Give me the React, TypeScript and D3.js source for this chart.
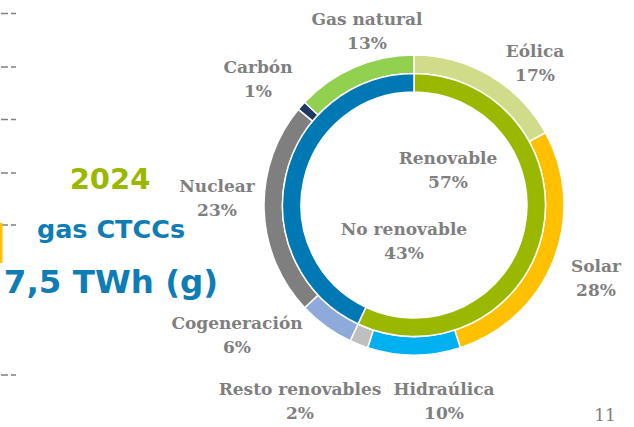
import { useMemo } from 'react';
import * as d3 from 'd3';

// outer ring: technologies, clockwise from 12 o'clock
const techNames = ['Eólica', 'Solar', 'Hidraúlica', 'Resto renovables', 'Cogeneración', 'Nuclear', 'Carbón', 'Gas natural'];
const techValues = [17, 28, 10, 2, 6, 23, 1, 13];
const techColors = ['#d0dc8a', '#ffc000', '#00b0f0', '#bfbfbf', '#8eaadb', '#7f7f7f', '#1f3864', '#92d050'];

// inner ring: renewable split
const groupNames = ['Renovable', 'No renovable'];
const groupValues = [57, 43];
const groupColors = ['#9bb800', '#0078b4'];

// label anchor points (center x, baseline of first line)
const techLabelPos: [number, number][] = [
    [535, 57], [596, 272], [444, 395], [300, 395], [237, 329], [217, 192], [258, 73], [367, 25],
];
const groupLabelPos: [number, number][] = [[448, 164], [404, 235]];

const leftDashes = [13.5, 67, 119.5, 173, 225, 375];

const W = 634;
const H = 427;
const cx = 414;
const cy = 205;

const serif = '"DejaVu Serif", serif';
const sans = '"DejaVu Sans", Verdana, sans-serif';

export default function App() {
    const { outer, inner } = useMemo(() => {
        const pie = d3.pie<number>().sort(null).value(d => d);
        return { outer: pie(techValues), inner: pie(groupValues) };
    }, []);

    const outerArc = d3.arc<d3.PieArcDatum<number>>().innerRadius(131.5).outerRadius(150);
    const innerArc = d3.arc<d3.PieArcDatum<number>>().innerRadius(113).outerRadius(131.5);

    const labelStyle = { fontFamily: serif, fontWeight: 700, fontSize: 17, fill: '#7f7f7f' };

    return (
        <svg width={W} height={H} style={{ position: 'absolute', left: 0, top: 0, display: 'block', background: '#fff' }}>
            {/* left edge remnants */}
            {leftDashes.map((y, i) => (
                <line key={i} x1={1} x2={16} y1={y} y2={y} stroke="#808080" strokeWidth={1.5} strokeDasharray="7,3,5" />
            ))}
            <rect x={0} y={223} width={2.5} height={40} fill="#ffc000" />

            <text x={110} y={189} textAnchor="middle" style={{ fontFamily: sans, fontWeight: 700, fontSize: 29, fill: '#9bb800' }}>2024</text>
            <text x={111} y={238} textAnchor="middle" style={{ fontFamily: sans, fontWeight: 700, fontSize: 25.5, fill: '#0f7db5' }}>gas CTCCs</text>
            <text x={111} y={293} textAnchor="middle" style={{ fontFamily: sans, fontWeight: 700, fontSize: 32.5, fill: '#0f7db5' }}>7,5 TWh (g)</text>

            <g transform={`translate(${cx},${cy})`}>
                {outer.map((d, i) => (
                    <path key={i} d={outerArc(d) ?? ''} fill={techColors[i]} stroke="#fff" strokeWidth={1.5} />
                ))}
                {inner.map((d, i) => (
                    <path key={i} d={innerArc(d) ?? ''} fill={groupColors[i]} stroke="#fff" strokeWidth={1.5} />
                ))}
            </g>

            {techNames.map((name, i) => (
                <text key={name} x={techLabelPos[i][0]} y={techLabelPos[i][1]} textAnchor="middle" style={labelStyle}>
                    <tspan x={techLabelPos[i][0]}>{name}</tspan>
                    <tspan x={techLabelPos[i][0]} dy={24}>{techValues[i]}%</tspan>
                </text>
            ))}
            {groupNames.map((name, i) => (
                <text key={name} x={groupLabelPos[i][0]} y={groupLabelPos[i][1]} textAnchor="middle" style={labelStyle}>
                    <tspan x={groupLabelPos[i][0]}>{name}</tspan>
                    <tspan x={groupLabelPos[i][0]} dy={24}>{groupValues[i]}%</tspan>
                </text>
            ))}

            <text x={605} y={421} textAnchor="middle" style={{ fontFamily: serif, fontSize: 17, fill: '#7f7f7f' }}>11</text>
        </svg>
    );
}
